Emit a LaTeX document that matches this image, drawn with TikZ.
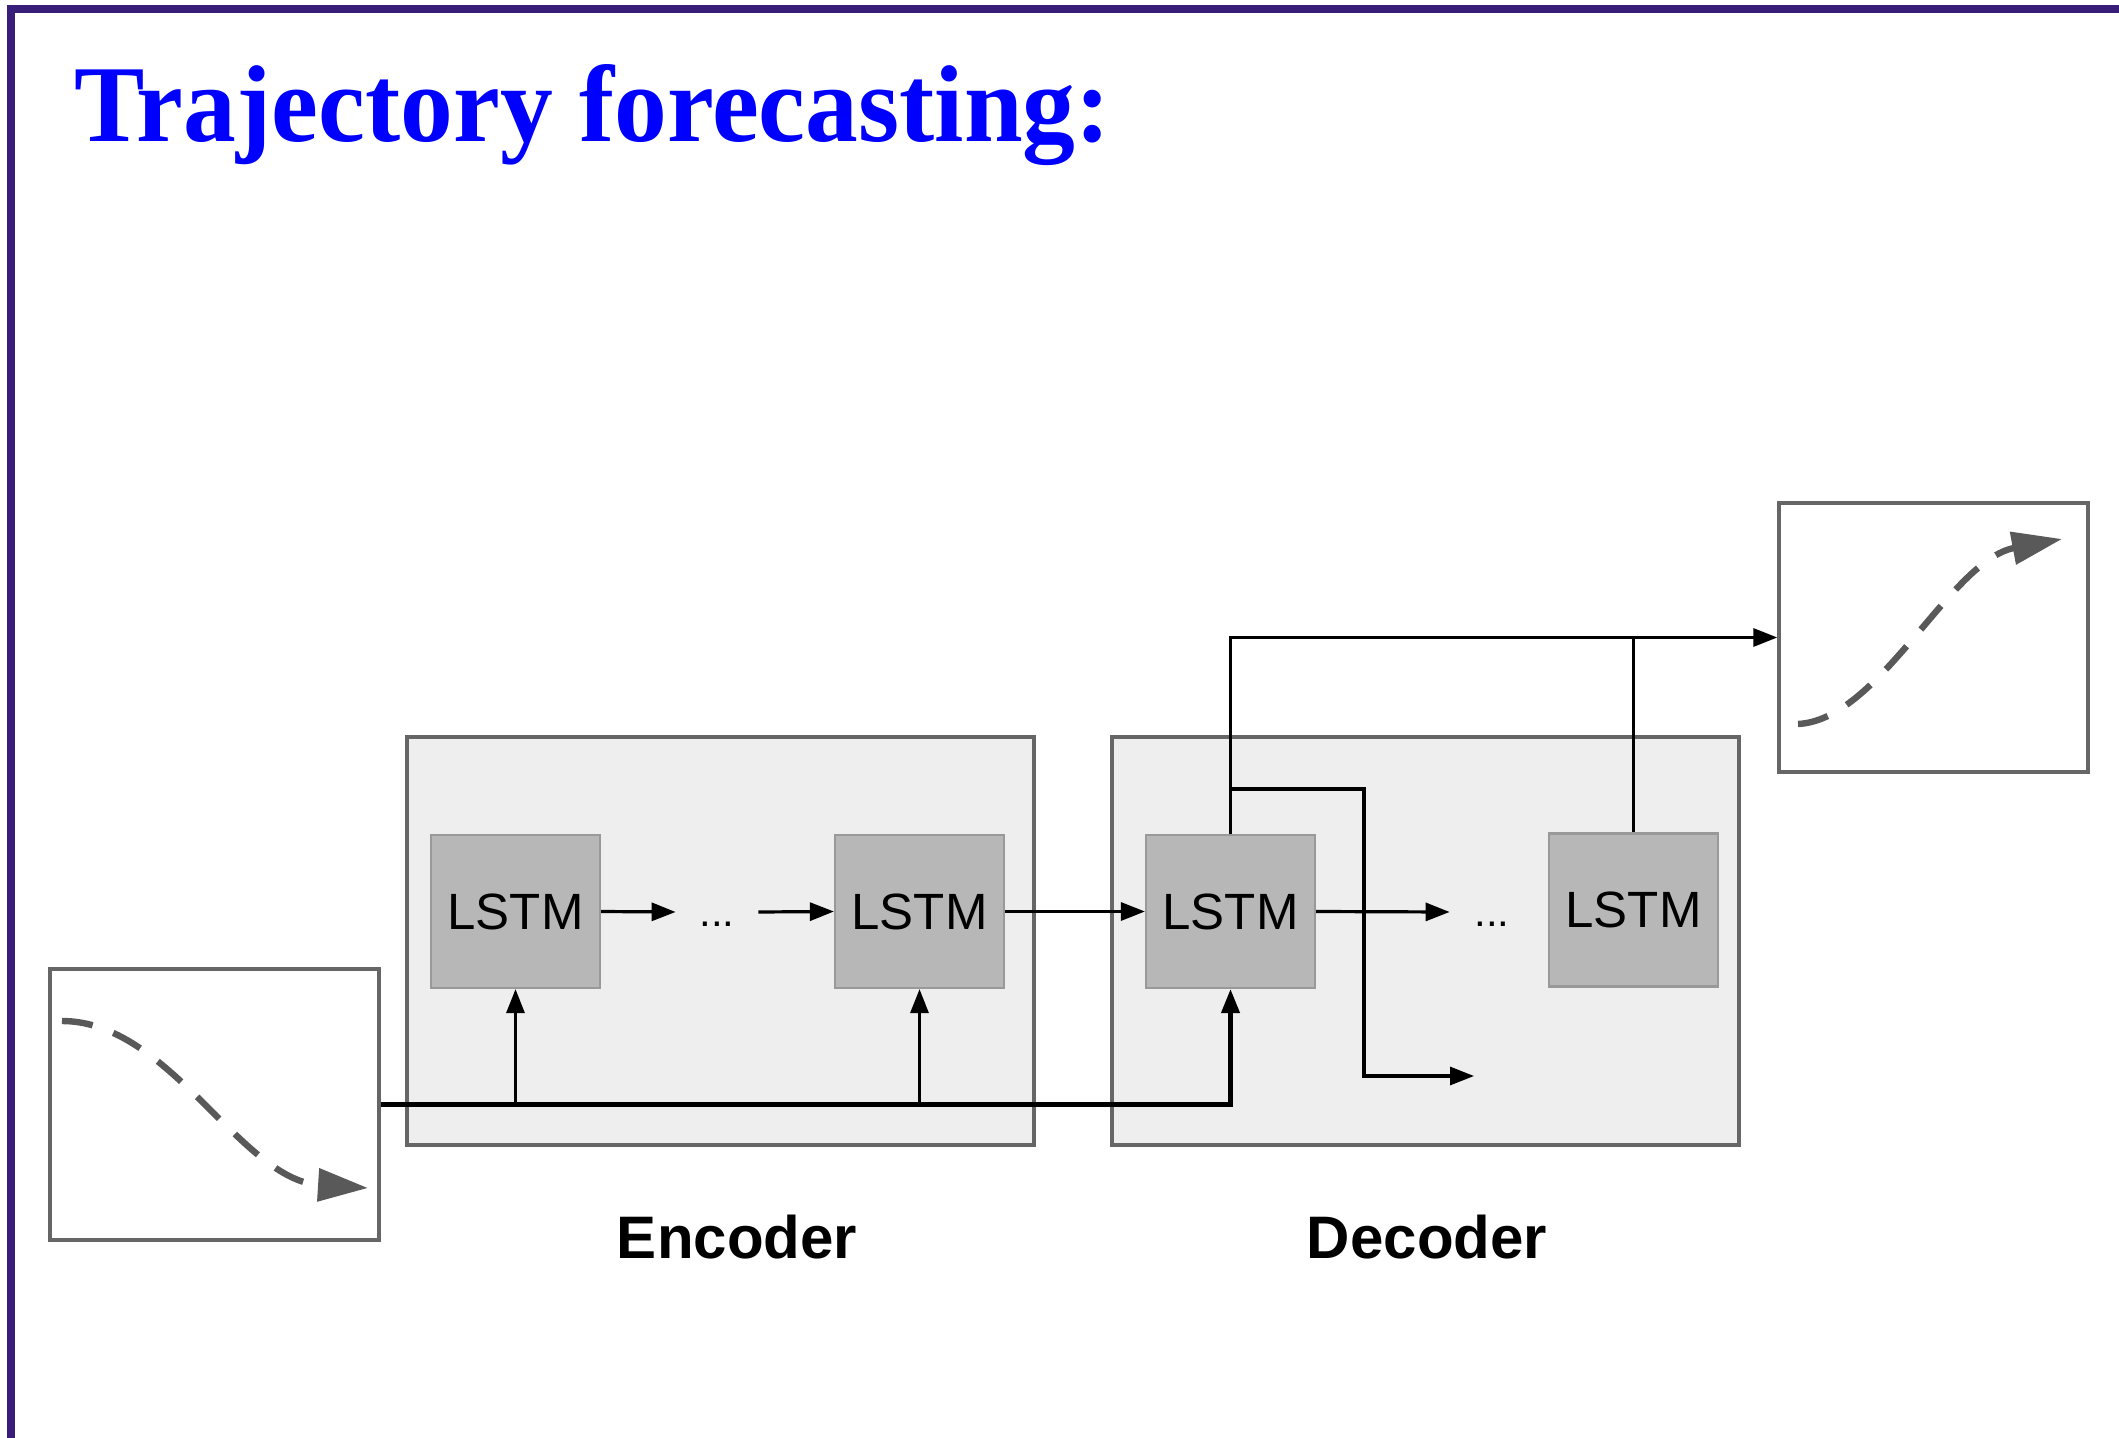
\documentclass[tikz,border=0pt]{standalone}
\usepackage{fontspec}
\setmainfont{Liberation Sans}
\newfontfamily\titlefont{Liberation Serif}
\usetikzlibrary{arrows.meta}
\definecolor{framepurple}{RGB}{56,30,120}
\definecolor{titleblue}{RGB}{0,0,255}
\definecolor{panelfill}{RGB}{238,238,238}
\definecolor{panelline}{RGB}{102,102,102}
\definecolor{cellfill}{RGB}{183,183,183}
\definecolor{cellline}{RGB}{153,153,153}
\definecolor{trajgray}{RGB}{89,89,89}

\begin{document}
\begin{tikzpicture}[x=0.5pt,y=-0.5pt,
  panel/.style={draw=panelline, line width=1.6pt, fill=panelfill,
    minimum width=313.5pt, minimum height=204pt, inner sep=0pt},
  cell/.style={draw=cellline, line width=1.1pt, fill=cellfill,
    minimum width=84.5pt, minimum height=76.5pt, inner sep=0pt,
    font=\fontsize{25.5}{30}\selectfont},
  plotbox/.style={draw=panelline, line width=1.7pt, fill=white, inner sep=0pt},
  dotsnode/.style={inner sep=0pt, font=\fontsize{21}{24}\selectfont},
  caption/.style={anchor=base, inner sep=0pt, font=\bfseries\fontsize{30}{36}\selectfont},
  wire/.style={line width=1.6pt, -{Triangle[length=12pt,width=9pt]}},
  plainwire/.style={line width=1.6pt},
  traj/.style={draw=trajgray, line width=3.2pt, dash pattern=on 15.5pt off 11pt,
    -{Triangle[length=25pt,width=16pt,fill=trajgray]}}
]
\useasboundingbox (0,0) rectangle (2119,1438);
\fill[white] (0,0) rectangle (2119,1438);

% slide frame
\fill[framepurple] (7,5) rectangle (2119,13);
\fill[framepurple] (7,5) rectangle (15,1438);

% title
\node[anchor=base west, inner sep=0pt, text=titleblue] (title) at (74,142)
  {\resizebox{518pt}{38.5pt}{\titlefont\bfseries Trajectory forecasting:}};

% encoder / decoder panels
\node[panel] (enc) at (720.5,941) {};
\node[panel] (dec) at (1425.5,941) {};

% LSTM cells
\node[cell] (e1) at (515.5,911.5) {LSTM};
\node[cell] (e2) at (919.5,911.5) {LSTM};
\node[cell] (d1) at (1230.5,911.5) {LSTM};
\node[cell] (d2) at (1633.5,910) {LSTM};

% ellipses between cells
\node[dotsnode, minimum width=41pt] (dots1) at (717,912) {\vphantom{L}...};
\node[dotsnode, minimum width=42pt] (dots2) at (1492,912) {\vphantom{L}...};

% input and output trajectory plots
\node[plotbox, minimum width=164.5pt, minimum height=135.5pt] (inbox) at (214.5,1104.5) {};
\node[plotbox, minimum width=154.5pt, minimum height=134.5pt] (outbox) at (1933.5,637.5) {};

\draw[traj] (62,1021) .. controls (170,1021) and (240,1180) .. (368,1188);
\draw[traj] (1798,724) .. controls (1880,720) and (1950,560) .. (2062,539);

% captions
\node[caption] (enclabel) at (737,1258) {Encoder};
\node[caption] (declabel) at (1427,1258) {Decoder};

% recurrent connections
\draw[wire] (e1.east) -- (dots1.west);
\draw[wire] (dots1.east) -- (e2.west);
\draw[wire] (e2.east) -- (d1.west);
\draw[wire] (d1.east) -- (dots2.west);

% input feed
\draw[wire, line width=2.1pt] (inbox.east) -| (d1.south);
\draw[wire] (e1.south |- inbox.east) -- (e1.south);
\draw[wire] (e2.south |- inbox.east) -- (e2.south);

% decoder outputs
\draw[wire] (d1.north) |- (outbox.west);
\draw[plainwire] (d2.north) -- (d2.north |- outbox.west);

\coordinate (ybr) at (1364,789);
\coordinate (yend) at (1474,1076);
\draw[wire] (d1.north |- ybr) -- (ybr) |- (yend);
\end{tikzpicture}
\end{document}
